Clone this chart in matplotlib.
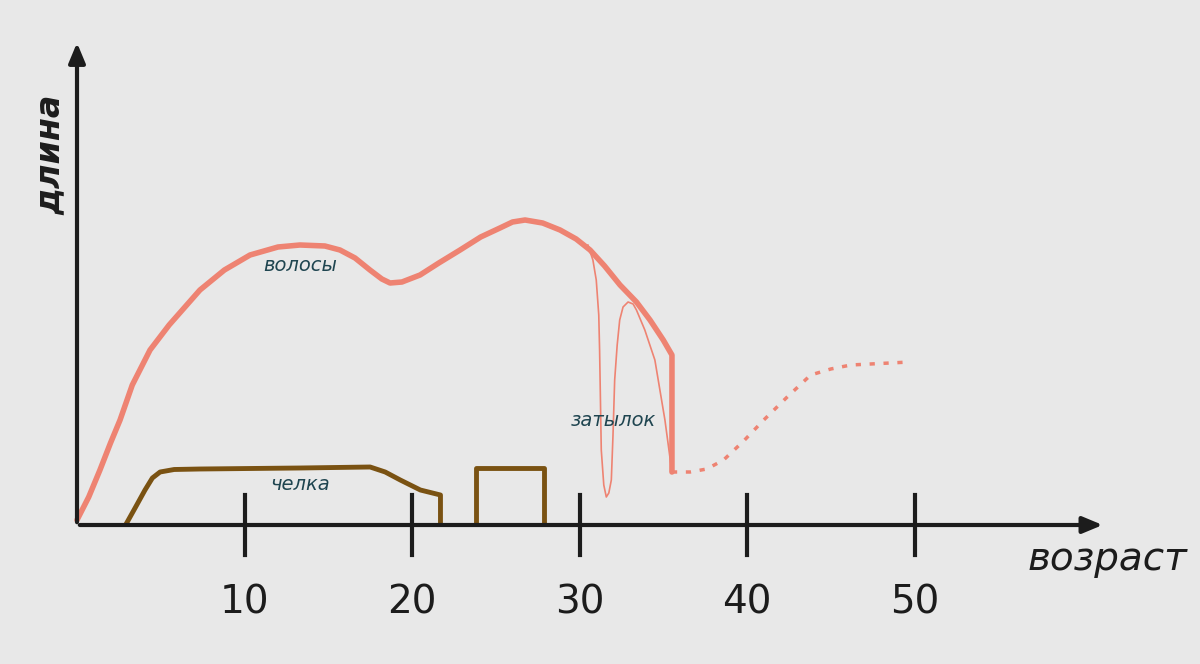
import matplotlib.pyplot as plt

# волосы
hair_age = [0, 0.7, 1.37, 2.0, 2.57, 3.3, 4.36, 5.5, 7.34, 8.8, 10.33, 12.0, 13.31, 14.8, 15.7,
            16.6, 17.49, 18.2, 18.69, 19.4, 20.48, 21.6, 22.87, 24.1, 25.25, 26.0, 26.75,
            27.8, 28.84, 29.8, 30.63, 31.5, 32.42, 33.4, 34.21, 35.0, 35.52, 35.52]
hair_len = [0.5, 2.8, 5.5, 8.2, 10.5, 14.0, 17.5, 20.0, 23.5, 25.5, 27.0, 27.8, 28.0, 27.9, 27.5,
            26.7, 25.5, 24.6, 24.2, 24.3, 25.0, 26.2, 27.5, 28.8, 29.7, 30.3, 30.5,
            30.2, 29.5, 28.6, 27.5, 25.9, 24.0, 22.3, 20.5, 18.5, 17.0, 5.3]
# продолжение (пунктир)
future_age = [35.52, 36.6, 37.6, 38.6, 39.8, 41.0, 42.4, 43.8, 45.0, 46.2, 49.7]
future_len = [5.3, 5.3, 5.6, 6.5, 8.4, 10.5, 12.8, 15.0, 15.6, 16.0, 16.3]
# затылок
nape_age = [30.5, 30.8, 31.0, 31.15, 31.2, 31.3, 31.45, 31.6, 31.75, 31.9, 32.0, 32.1, 32.25,
            32.4, 32.6, 32.9, 33.2, 33.4, 33.9, 34.5, 35.1, 35.5]
nape_len = [28, 26.5, 24.5, 21.0, 17.5, 7.5, 4.0, 2.8, 3.2, 4.5, 9.0, 14.5, 18.0,
            20.5, 21.8, 22.3, 22.1, 21.5, 19.5, 16.5, 10.5, 5.5]
# челка
bang_age = [3.0, 3.5, 4.06, 4.5, 4.96, 5.8, 7.34, 13.3, 17.5, 18.4, 19.3, 20.5, 21.7, 21.7]
bang_len = [0.3, 1.8, 3.5, 4.7, 5.3, 5.55, 5.6, 5.7, 5.8, 5.3, 4.5, 3.5, 3.0, 0.3]
bang2_age = [23.8, 23.8, 27.9, 27.9]
bang2_len = [0.3, 5.7, 5.7, 0.3]
ticks = [10, 20, 30, 40, 50]

bg = '#e8e8e8'
red = '#ee8372'
brown = '#7a5212'
ink = '#1c1c1c'
teal = '#1f4550'

fig = plt.figure(figsize=(12, 6.64), dpi=100, facecolor=bg)
ax = fig.add_axes([0, 0, 1, 1])
ax.set_facecolor(bg)
ax.set_xlim(-77 / 16.75, (1200 - 77) / 16.75)
ax.set_ylim(-13.9, 52.5)
ax.axis('off')

ax.plot(hair_age, hair_len, color=red, lw=4, solid_capstyle='round', solid_joinstyle='round')
ax.plot(future_age, future_len, color=red, lw=2.5, ls=(0, (1.5, 2.5)))
ax.plot(nape_age, nape_len, color=red, lw=1.2)
ax.plot(bang_age, bang_len, color=brown, lw=3.5, solid_joinstyle='round')
ax.plot(bang2_age, bang2_len, color=brown, lw=3.5)

# оси
ax.annotate('', xy=(61.4, 0), xytext=(0, 0),
            arrowprops=dict(arrowstyle='-|>,head_length=1.2,head_width=0.5', color=ink, lw=3))
ax.annotate('', xy=(0, 48.5), xytext=(0, 0),
            arrowprops=dict(arrowstyle='-|>,head_length=1.2,head_width=0.5', color=ink, lw=3))
for t in ticks:
    ax.plot([t, t], [3, -3], color=ink, lw=3)
    ax.text(t, -7.8, str(t), ha='center', va='center', fontsize=28, color=ink)

ax.text(-1.6, 37, 'длина', rotation=90, ha='center', va='center', fontsize=24,
        style='italic', fontweight='bold', color=ink)
ax.text(61.5, -3.4, 'возраст', ha='center', va='center', fontsize=28,
        style='italic', color=ink)
ax.text(13.3, 26, 'волосы', ha='center', va='center', fontsize=14, style='italic', color=teal)
ax.text(13.3, 4.0, 'челка', ha='center', va='center', fontsize=14, style='italic', color=teal)
ax.text(32.0, 10.5, 'затылок', ha='center', va='center', fontsize=14, style='italic', color=teal)

fig.savefig('out.png', dpi=100, facecolor=bg)
